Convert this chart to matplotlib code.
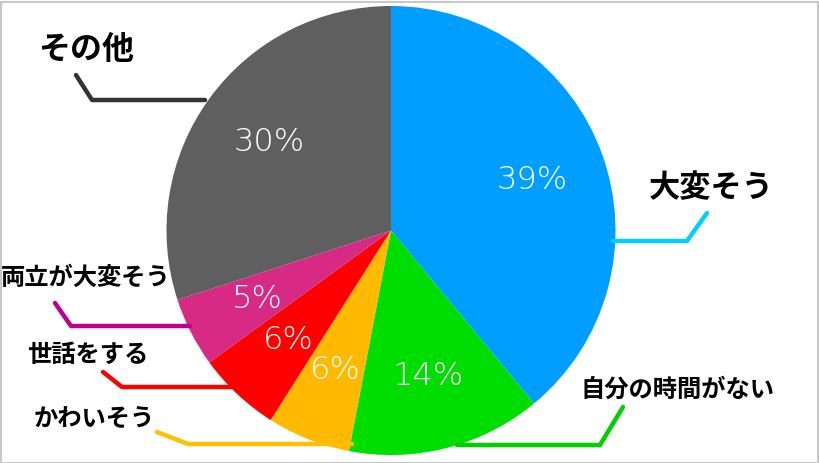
import matplotlib.pyplot as plt
from matplotlib.patches import Rectangle

plt.rcParams['font.family'] = ['Noto Sans CJK JP', 'DejaVu Sans']

W, H = 819, 463

labels = ['大変そう', '自分の時間がない', 'かわいそう', '世話をする', '両立が大変そう', 'その他']
values = [39, 14, 6, 6, 5, 30]
colors = ['#009FFF', '#00DD00', '#FFB900', '#FF0000', '#D62A85', '#5F5F5F']
line_colors = ['#00D0FF', '#00D000', '#FFC000', '#FF0000', '#C0008A', '#333333']

# label text position (pixels, from top-left), font size, leader line path
label_pos = [(711, 188, 22.5), (677, 390, 17.5), (94, 420, 17.5),
             (88, 355, 17.5), (86, 278, 17.5), (86, 50, 23)]
leaders = [
    [(613, 241), (687, 241), (707, 213)],
    [(457, 445), (600, 445), (623, 407)],
    [(352, 444), (188, 444), (157, 432)],
    [(232, 387), (122, 387), (103, 372)],
    [(190, 326), (71, 326), (55, 303)],
    [(205, 100), (92, 100), (76, 75)],
]

fig = plt.figure(figsize=(W / 100, H / 100), dpi=100)
ax = fig.add_axes([0, 0, 1, 1])

wedges, texts, autotexts = ax.pie(
    values, colors=colors, startangle=90, counterclock=False,
    center=(391, H - 230.5), radius=224.5, frame=True,
    autopct=lambda p: f'{p:.0f}%', pctdistance=0.67,
    textprops=dict(color='white', fontsize=23, family=['DejaVu Sans'],
                   fontweight='light'))
ax.set_xlim(0, W)
ax.set_ylim(0, H)
ax.set_aspect('equal')
ax.axis('off')

for lab, (x, y, fs), path, lc in zip(labels, label_pos, leaders, line_colors):
    ax.text(x, H - y, lab, ha='center', va='center', fontsize=fs,
            fontweight='bold', color='black')
    xs = [p[0] for p in path]
    ys = [H - p[1] for p in path]
    ax.plot(xs, ys, color=lc, lw=3.2, solid_capstyle='round',
            solid_joinstyle='round')

fig.patches.append(Rectangle((0.5 / W, 0.5 / H), 1 - 2 / W, 1 - 2 / H,
                             transform=fig.transFigure, fill=False,
                             edgecolor='#C8C8C8', lw=1.5))

fig.savefig('out.png', dpi=100)
